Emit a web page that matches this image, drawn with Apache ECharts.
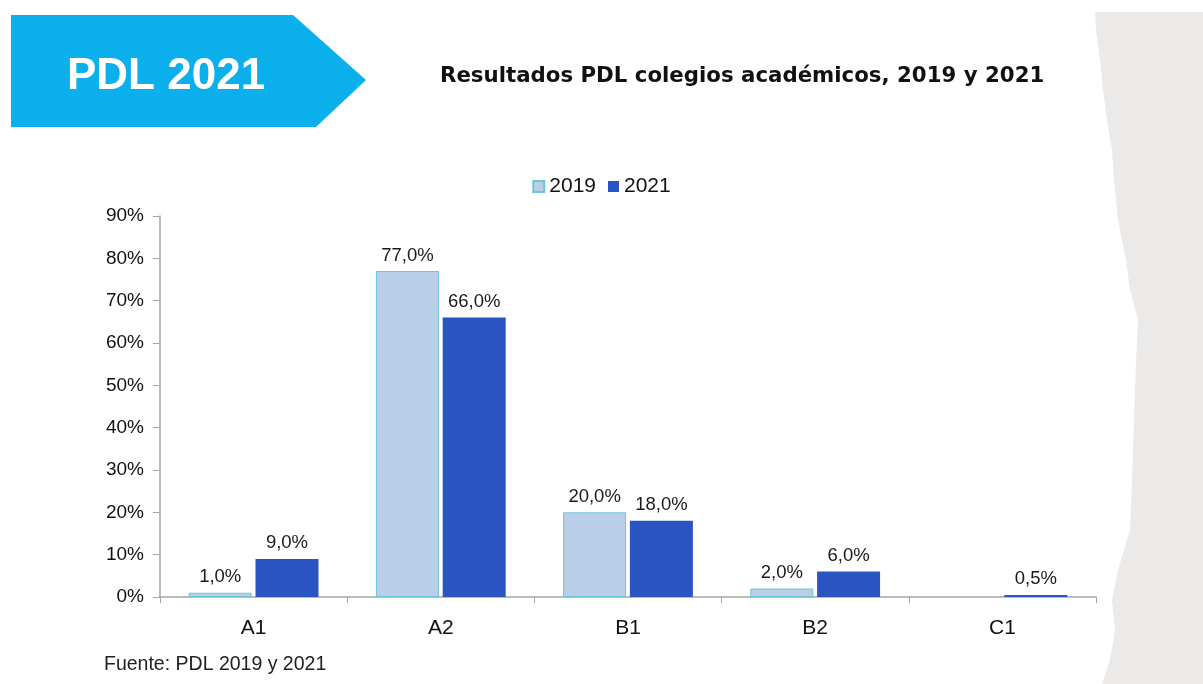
<!DOCTYPE html>
<html>
<head>
<meta charset="utf-8">
<script src="https://cdn.jsdelivr.net/npm/echarts@6/dist/echarts.min.js"></script>
<style>
  html, body { margin: 0; padding: 0; background: #fff; }
  #chart { width: 1203px; height: 684px; }
</style>
</head>
<body>
<div id="chart"></div>
<script>
// datos del gráfico
const categories = ['A1', 'A2', 'B1', 'B2', 'C1']
const values2019 = [1.0, 77.0, 20.0, 2.0, null]
const values2021 = [9.0, 66.0, 18.0, 6.0, 0.5]
const yTicks = [0, 10, 20, 30, 40, 50, 60, 70, 80, 90]

const font = '"Liberation Sans", Arial, sans-serif'
const fmt = v => v.toFixed(1).replace('.', ',') + '%'

const chart = echarts.init(document.getElementById('chart'))

const labelStyle = {
  show: true,
  position: 'top',
  distance: 6,
  color: '#1a1a1a',
  fontSize: 18.5,
  fontFamily: font,
  formatter: p => (p.value == null ? '' : fmt(p.value))
}

chart.setOption({
  animation: false,
  textStyle: { fontFamily: font },
  graphic: [
    // papel gris a la derecha
    {
      type: 'polygon',
      silent: true,
      shape: {
        points: [
          [1095, 12], [1203, 12], [1203, 684], [1102, 684], [1110, 660],
          [1115, 630], [1112, 600], [1118, 570], [1130, 530], [1132, 480],
          [1134, 420], [1136, 360], [1138, 320], [1130, 290], [1126, 260],
          [1118, 220], [1114, 180], [1112, 150], [1107, 120], [1103, 90],
          [1100, 60], [1096, 30]
        ]
      },
      style: { fill: '#ECE9E9' }
    },
    // flecha azul
    {
      type: 'polygon',
      silent: true,
      shape: { points: [[11, 15], [293, 15], [366, 80], [316, 127], [11, 127]] },
      style: { fill: '#0AAFEC' }
    },
    {
      type: 'text',
      left: 67,
      top: 55,
      style: { text: 'PDL 2021', fill: '#fff', font: 'bold 44px ' + font }
    },
    {
      type: 'text',
      left: 440,
      top: 66,
      style: { text: 'Resultados PDL colegios académicos, 2019 y 2021', fill: '#111', font: 'bold 21.3px "DejaVu Sans", sans-serif' }
    },
    {
      type: 'text',
      left: 104,
      top: 655,
      style: { text: 'Fuente: PDL 2019 y 2021', fill: '#222', font: '19.5px ' + font }
    }
  ],
  legend: {
    top: 171,
    left: 'center',
    icon: 'rect',
    itemWidth: 11,
    itemHeight: 11,
    itemGap: 12,
    textStyle: { fontSize: 21, color: '#111', fontFamily: font },
    data: ['2019', '2021']
  },
  grid: { left: 160, right: 107, top: 216, bottom: 87 },
  xAxis: {
    type: 'category',
    data: categories,
    axisLine: { lineStyle: { color: '#A6A6A6', width: 1.5 } },
    axisTick: { show: true, length: 6, lineStyle: { color: '#A6A6A6' } },
    axisLabel: { fontSize: 21, color: '#111', margin: 21, fontFamily: font }
  },
  yAxis: {
    type: 'value',
    min: 0,
    max: 90,
    interval: 10,
    axisLine: { show: true, lineStyle: { color: '#A6A6A6', width: 1.5 } },
    axisTick: { show: true, length: 7, lineStyle: { color: '#A6A6A6' } },
    splitLine: { show: false },
    axisLabel: {
      fontSize: 19,
      color: '#111',
      margin: 16,
      fontFamily: font,
      formatter: v => (yTicks.includes(v) ? v + '%' : '')
    }
  },
  series: [
    {
      name: '2019',
      type: 'bar',
      data: values2019,
      barWidth: 63,
      barGap: '6%',
      itemStyle: { color: '#B9CFE7', borderColor: '#6CC3DA', borderWidth: 1 },
      label: labelStyle
    },
    {
      name: '2021',
      type: 'bar',
      data: values2021,
      barWidth: 63,
      itemStyle: { color: '#2B54C3' },
      label: labelStyle
    }
  ]
})
</script>
</body>
</html>
